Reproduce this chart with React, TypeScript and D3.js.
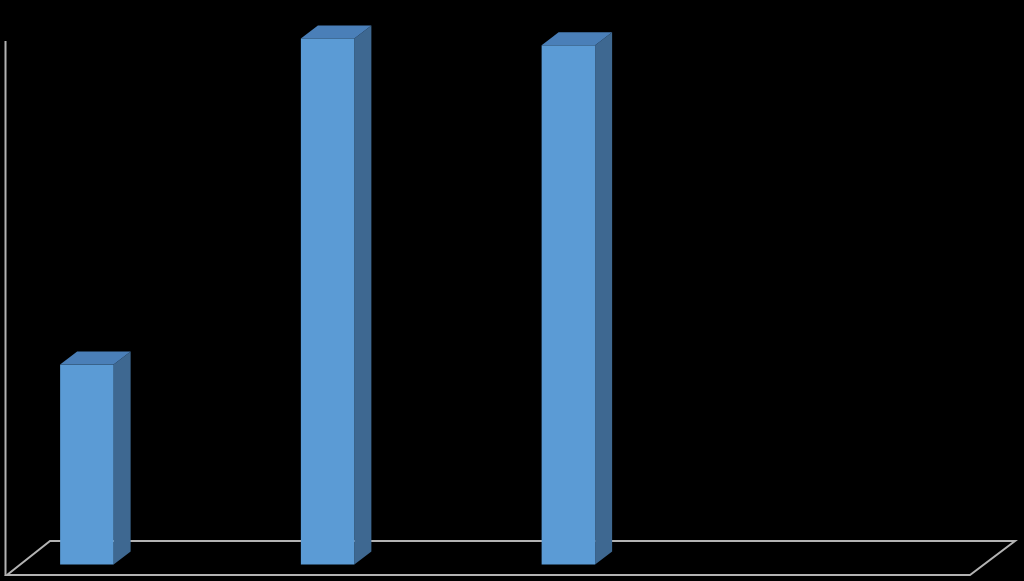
import React from "react";
import * as d3 from "d3";

const categories = ["1", "2", "3", "4"];
const seriesNames = ["Series 1", "Series 2", "Series 3"];
const series1 = [38, 100, 98.7, null];
const yMax = 100;

const W = 1024;
const H = 581;

export default function App() {
  // floor geometry (front plane)
  const floorFrontY = 575;
  const floorLeft = 7;
  const floorRight = 970;
  const depthDx = 43;
  const depthDy = -34;

  // mid-depth plane where bars sit
  const midDx = depthDx / 2;
  const midDy = depthDy / 2;
  const x0 = d3
    .scaleBand<string>()
    .domain(categories)
    .range([floorLeft + midDx, floorRight + midDx])
    .padding(0);
  const bw = x0.bandwidth();
  const barW = bw / (seriesNames.length + 1.5);
  const gap = 0.75 * barW;
  const bDx = 17;
  const bDy = -13;

  const y = d3.scaleLinear().domain([0, yMax]).range([0, 526]);

  const baseMidY = floorFrontY + midDy;

  const bars = series1
    .map((v, i) => ({ v, cat: categories[i] }))
    .filter((d) => d.v != null && (d.v as number) > 0)
    .map((d) => {
      const xm = (x0(d.cat) as number) + gap; // mid plane left
      const xf = xm - bDx / 2;
      const yb = baseMidY - bDy / 2; // front bottom
      const h = y(d.v as number);
      const yt = yb - h;
      return { xf, yb, yt, key: d.cat };
    });

  const floorPts = [
    [floorLeft, floorFrontY],
    [floorLeft + depthDx, floorFrontY + depthDy],
    [floorRight + depthDx + 2, floorFrontY + depthDy],
    [floorRight, floorFrontY],
  ];

  return (
    <div style={{ position: "fixed", left: 0, top: 0, width: W, height: H, background: "#000" }}>
      <svg width={W} height={H} style={{ display: "block" }}>
        <rect x={0} y={0} width={W} height={H} fill="#000" />
        <polygon
          points={floorPts.map((p) => p.join(",")).join(" ")}
          fill="none"
          stroke="#b3b3b3"
          strokeWidth={2}
        />
        <line x1={5.5} y1={41} x2={5.5} y2={floorFrontY + 1} stroke="#b3b3b3" strokeWidth={2} />
        {bars.map((b) => (
          <g key={b.key}>
            <polygon
              points={`${b.xf + barW},${b.yb} ${b.xf + barW + bDx},${b.yb + bDy} ${b.xf + barW + bDx},${b.yt + bDy} ${b.xf + barW},${b.yt}`}
              fill="#3e6891"
            />
            <polygon
              points={`${b.xf},${b.yt} ${b.xf + bDx},${b.yt + bDy} ${b.xf + barW + bDx},${b.yt + bDy} ${b.xf + barW},${b.yt}`}
              fill="#4a7fb8"
            />
            <rect x={b.xf} y={b.yt} width={barW} height={b.yb - b.yt} fill="#5b9bd5" />
          </g>
        ))}
      </svg>
    </div>
  );
}
